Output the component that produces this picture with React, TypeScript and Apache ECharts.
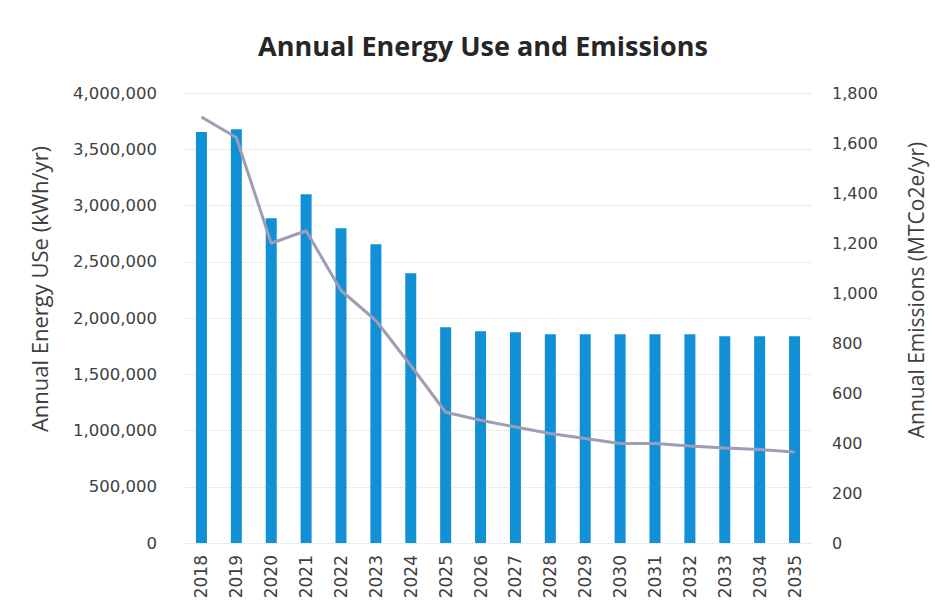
import React, { useEffect, useRef } from "react";
import * as echarts from "echarts";

const years = ["2018","2019","2020","2021","2022","2023","2024","2025","2026","2027","2028","2029","2030","2031","2032","2033","2034","2035"];
const energyUse = [3653000,3677000,2886000,3100000,2797000,2655000,2398000,1918000,1883000,1874000,1856000,1856000,1856000,1856000,1856000,1838000,1838000,1838000];
const emissions = [1704,1622,1199,1249,1010,890,710,523,491,464,438,418,398,398,388,380,374,364];

const titleText = "Annual Energy Use and Emissions";
const leftAxisName = "Annual Energy USe (kWh/yr)";
const rightAxisName = "Annual Emissions (MTCo2e/yr)";

export default function App() {
  const ref = useRef<HTMLDivElement>(null);
  useEffect(() => {
    if (!ref.current) return;
    const chart = echarts.init(ref.current, undefined, { renderer: "svg" });
    const tickFont = { fontFamily: "DejaVu Sans", fontSize: 16, color: "#404040" };
    chart.setOption({
      animation: false,
      backgroundColor: "#ffffff",
      title: {
        text: titleText,
        left: 478,
        top: 27,
        textAlign: "center",
        textStyle: { fontFamily: "Open Sans", fontWeight: "bold", fontSize: 27, color: "#262626" },
      },
      grid: { left: 184, right: 129, top: 93, bottom: 71, containLabel: false },
      xAxis: {
        type: "category",
        data: years,
        axisLine: { show: false },
        axisTick: { show: false },
        axisLabel: { rotate: 90, margin: 12, interval: 0, ...tickFont, fontSize: 17 },
      },
      yAxis: [
        {
          type: "value",
          min: 0,
          max: 4000000,
          interval: 500000,
          axisLine: { show: false },
          axisTick: { show: false },
          axisLabel: {
            margin: 27,
            ...tickFont,
            fontSize: 16.5,
            formatter: (v: number) => v.toLocaleString("en-US"),
          },
          splitLine: { show: true, lineStyle: { color: "#d9d9d9", type: "dotted", width: 1 } },
        },
        {
          type: "value",
          min: 0,
          max: 1800,
          interval: 200,
          position: "right",
          axisLine: { show: false },
          axisTick: { show: false },
          axisLabel: {
            margin: 20,
            ...tickFont,
            formatter: (v: number) => v.toLocaleString("en-US"),
          },
          splitLine: { show: false },
        },
      ],
      series: [
        {
          type: "bar",
          data: energyUse,
          yAxisIndex: 0,
          barWidth: 11,
          itemStyle: { color: "#1190d6" },
        },
        {
          type: "line",
          data: emissions,
          yAxisIndex: 1,
          symbol: "none",
          lineStyle: { color: "#a19cb6", width: 3 },
          z: 3,
        },
      ],
      graphic: [
        {
          type: "text",
          x: 39,
          y: 289,
          rotation: Math.PI / 2,
          style: {
            text: leftAxisName,
            align: "center",
            verticalAlign: "middle",
            fontFamily: "Open Sans",
            fontSize: 22,
            fill: "#404040",
          },
        },
        {
          type: "text",
          x: 916,
          y: 290,
          rotation: Math.PI / 2,
          style: {
            text: rightAxisName,
            align: "center",
            verticalAlign: "middle",
            fontFamily: "Open Sans",
            fontSize: 21,
            fill: "#404040",
          },
        },
      ],
    });
    return () => chart.dispose();
  }, []);
  return <div ref={ref} style={{ position: "absolute", left: 0, top: 0, width: 941, height: 614 }} />;
}
